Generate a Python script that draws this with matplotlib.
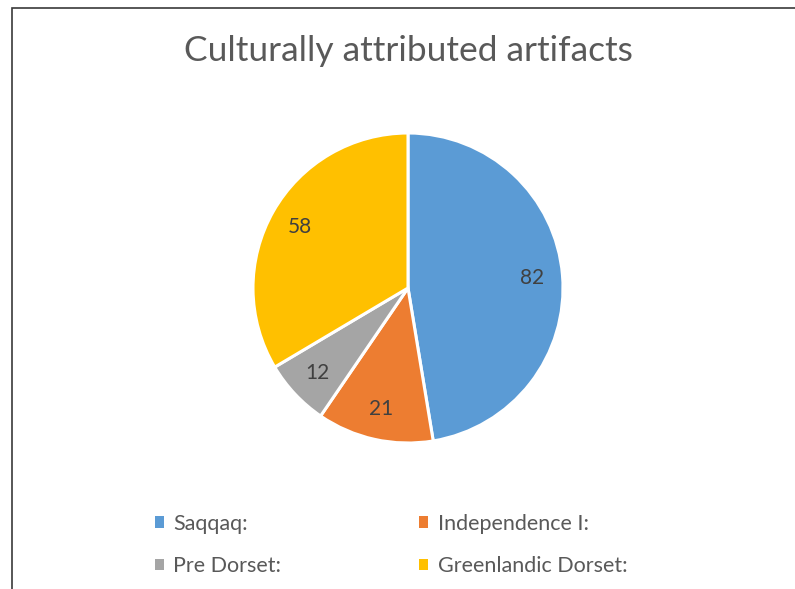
import matplotlib
matplotlib.use("Agg")
import matplotlib.pyplot as plt
from matplotlib.patches import Rectangle

categories = ["Saqqaq:", "Independence I:", "Pre Dorset:", "Greenlandic Dorset:"]
values = [82, 21, 12, 58]
colors = ["#5B9BD5", "#ED7D31", "#A5A5A5", "#FFC000"]
title = "Culturally attributed artifacts"

plt.rcParams['font.family'] = ['Lato', 'DejaVu Sans']

W, H = 795, 589
fig = plt.figure(figsize=(W / 100, H / 100), dpi=100)
fig.patch.set_facecolor("white")

# chart frame (open on right / bottom as in the reference crop)
fig.patches.append(Rectangle((12 / W, -0.2), 1.2, (H - 8) / H + 0.2,
                             transform=fig.transFigure, fill=False,
                             edgecolor="#3a3a3a", linewidth=1.2))

cx, cy, r = 408, 288, 155
ax = fig.add_axes([(cx - r) / W, (H - cy - r) / H, 2 * r / W, 2 * r / H])
wedges, texts = ax.pie(values, colors=colors, startangle=90, counterclock=False,
                       labels=[str(v) for v in values], labeldistance=0.8,
                       wedgeprops=dict(edgecolor="white", linewidth=2.2),
                       textprops=dict(color="#404040", fontsize=15))
for t in texts:
    t.set_horizontalalignment("center")
    t.set_verticalalignment("center")
ax.set_xlim(-1, 1)
ax.set_ylim(-1, 1)
ax.set_aspect("equal")
ax.axis("off")

fig.text(cx / W, 1 - 51 / H, title, ha="center", va="center",
         fontsize=25.5, color="#595959")

order = [0, 2, 1, 3]
leg = fig.legend([wedges[i] for i in order], [categories[i] for i in order],
                 ncol=2, loc="center", bbox_to_anchor=(391 / W, 1 - 545 / H),
                 frameon=False, fontsize=15.5, handlelength=0.42, handleheight=0.42,
                 handletextpad=0.45, columnspacing=6.4, labelspacing=1.05,
                 labelcolor="#595959")
for h in leg.legend_handles:
    h.set_edgecolor("none")

fig.savefig("out.png", dpi=100, facecolor="white")
